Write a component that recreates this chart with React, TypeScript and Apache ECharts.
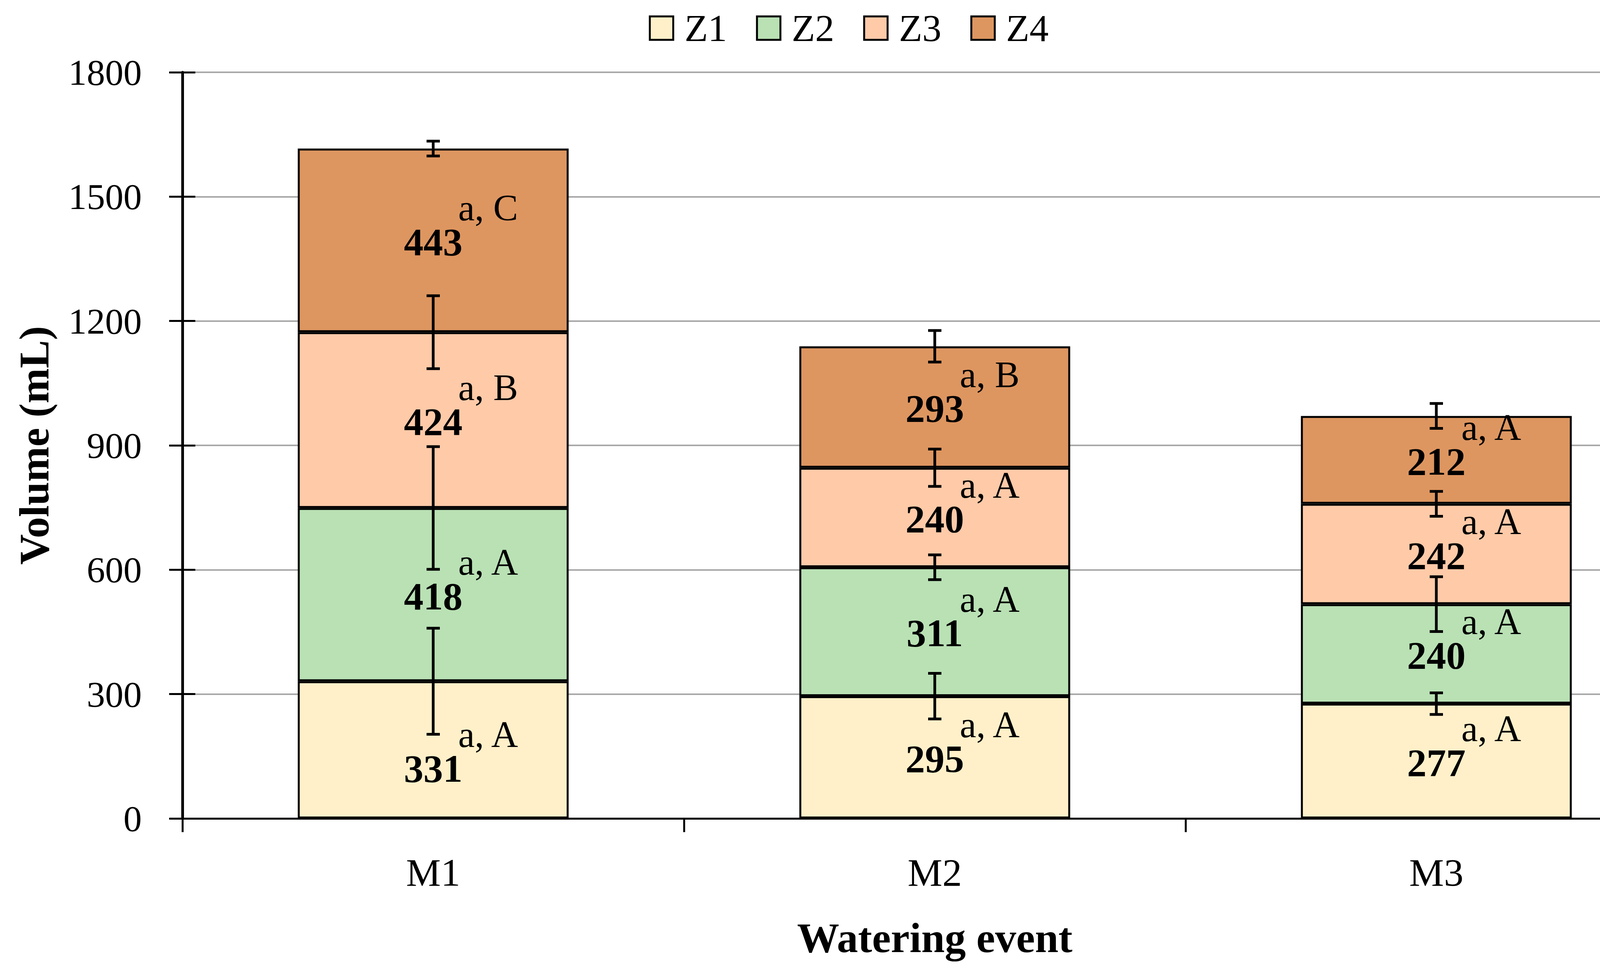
import React, { useEffect, useRef } from "react";
import * as echarts from "echarts";

const categories = ["M1", "M2", "M3"];
const seriesNames = ["Z1", "Z2", "Z3", "Z4"];
const z1 = [331, 295, 277];
const z2 = [418, 311, 240];
const z3 = [424, 240, 242];
const z4 = [443, 293, 212];
const z1Err = [128, 55, 26];
const z2Err = [148, 30, 66];
const z3Err = [88, 45, 30];
const z4Err = [18, 38, 30];
const z1Letters = ["a, A", "a, A", "a, A"];
const z2Letters = ["a, A", "a, A", "a, A"];
const z3Letters = ["a, B", "a, A", "a, A"];
const z4Letters = ["a, C", "a, B", "a, A"];
const yTicks = [0, 300, 600, 900, 1200, 1500, 1800];
const colors = ["#FFF0C9", "#B9E1B4", "#FFCAA8", "#DE9660"];

const FONT = "'Liberation Serif', 'Times New Roman', serif";

export default function App() {
  const ref = useRef<HTMLDivElement>(null);

  useEffect(() => {
    if (!ref.current) return;
    const chart = echarts.init(ref.current, undefined, { renderer: "svg" });

    const values = [z1, z2, z3, z4];
    const errs = [z1Err, z2Err, z3Err, z4Err];
    const letters = [z1Letters, z2Letters, z3Letters, z4Letters];

    // label of the first segment of M1 sits lower in the original (moved by hand)
    const labelShift = (s: number, i: number) => (s === 0 && i === 0 ? 44 : 0);

    const errData: number[][] = [];
    const errLetters: string[] = [];
    const errShift: number[] = [];
    categories.forEach((_, i) => {
      let cum = 0;
      values.forEach((arr, s) => {
        const bottom = cum;
        cum += arr[i];
        errData.push([i, cum, errs[s][i], (bottom + cum) / 2]);
        errLetters.push(letters[s][i]);
        errShift.push(labelShift(s, i));
      });
    });

    const yMin = yTicks[0];
    const yMax = yTicks[yTicks.length - 1];
    const yInterval = yTicks[1] - yTicks[0];

    const gridBox = { left: 467, right: 23, top: 185, bottom: 393 };

    const barSeries = seriesNames.map((name, s) => ({
      name,
      type: "bar",
      stack: "total",
      barWidth: "54%",
      xAxisIndex: 0,
      yAxisIndex: 0,
      data: values[s].map((v, i) =>
        labelShift(s, i) ? { value: v, label: { offset: [0, 4 + labelShift(s, i)] } } : v
      ),
      itemStyle: { color: colors[s], borderColor: "#000", borderWidth: 5 },
      label: {
        show: true,
        position: "inside",
        fontFamily: FONT,
        fontWeight: "bold",
        fontSize: 100,
        color: "#000",
        offset: [0, 4],
      },
      emphasis: { disabled: true },
    }));

    const option: any = {
      animation: false,
      backgroundColor: "#fff",
      textStyle: { fontFamily: FONT },
      legend: {
        data: seriesNames,
        left: 1656,
        top: 18,
        icon: "rect",
        itemWidth: 60,
        itemHeight: 60,
        itemGap: 74,
        itemStyle: { borderColor: "#000", borderWidth: 5 },
        textStyle: {
          fontFamily: FONT,
          fontSize: 98,
          color: "#000",
          padding: [0, 0, 0, 24],
        },
      },
      grid: [
        { ...gridBox, containLabel: false },
        { ...gridBox, containLabel: false },
      ],
      xAxis: [
        {
          type: "category",
          gridIndex: 0,
          data: categories,
          name: "Watering event",
          nameLocation: "middle",
          nameGap: 251,
          nameTextStyle: {
            fontFamily: FONT,
            fontWeight: "bold",
            fontSize: 108,
            color: "#000",
          },
          axisLine: { show: true, lineStyle: { color: "#000", width: 5 } },
          axisTick: {
            show: true,
            inside: false,
            length: 35,
            lineStyle: { color: "#000", width: 5 },
          },
          axisLabel: {
            fontFamily: FONT,
            fontSize: 100,
            color: "#000",
            margin: 88,
          },
          splitLine: { show: false },
        },
        {
          type: "category",
          gridIndex: 1,
          data: categories,
          show: false,
        },
      ],
      yAxis: [
        {
          type: "value",
          gridIndex: 0,
          min: yMin,
          max: yMax,
          interval: yInterval,
          name: "Volume (mL)",
          nameLocation: "middle",
          nameGap: 326,
          nameTextStyle: {
            fontFamily: FONT,
            fontWeight: "bold",
            fontSize: 108,
            color: "#000",
          },
          axisLine: { show: true, lineStyle: { color: "#000", width: 7 } },
          axisTick: {
            show: true,
            inside: false,
            length: 34,
            lineStyle: { color: "#000", width: 5 },
          },
          axisLabel: {
            fontFamily: FONT,
            fontSize: 94,
            color: "#000",
            margin: 104,
            formatter: (v: number) => String(v),
          },
          splitLine: { show: true, lineStyle: { color: "#A8A8A8", width: 4 } },
        },
        {
          type: "value",
          gridIndex: 1,
          min: yMin,
          max: yMax,
          interval: yInterval,
          position: "left",
          axisLine: { show: false },
          axisTick: {
            show: true,
            inside: true,
            length: 33,
            lineStyle: { color: "#000", width: 5 },
          },
          axisLabel: { show: false },
          splitLine: { show: false },
        },
      ],
      series: [
        ...barSeries,
        {
          name: "errors",
          type: "custom",
          xAxisIndex: 0,
          yAxisIndex: 0,
          z: 5,
          data: errData,
          renderItem: (params: any, api: any) => {
            const x = api.value(0);
            const top = api.value(1);
            const err = api.value(2);
            const mid = api.value(3);
            const pHi = api.coord([x, top + err]);
            const pLo = api.coord([x, top - err]);
            const pMid = api.coord([x, mid]);
            const cx = pHi[0];
            const cap = 17;
            const lineStyle = { stroke: "#000", lineWidth: 7 };
            return {
              type: "group",
              children: [
                {
                  type: "line",
                  shape: { x1: cx, y1: pHi[1], x2: cx, y2: pLo[1] },
                  style: lineStyle,
                },
                {
                  type: "line",
                  shape: { x1: cx - cap, y1: pHi[1], x2: cx + cap, y2: pHi[1] },
                  style: lineStyle,
                },
                {
                  type: "line",
                  shape: { x1: cx - cap, y1: pLo[1], x2: cx + cap, y2: pLo[1] },
                  style: lineStyle,
                },
                {
                  type: "text",
                  x: cx + 64,
                  y: pMid[1] - 83 + errShift[params.dataIndex],
                  style: {
                    text: errLetters[params.dataIndex],
                    fontFamily: FONT,
                    fontSize: 95,
                    fill: "#000",
                    align: "left",
                    verticalAlign: "middle",
                  },
                },
              ],
            };
          },
        },
      ],
    };

    chart.setOption(option);
    return () => chart.dispose();
  }, []);

  return (
    <div
      ref={ref}
      style={{ position: "absolute", left: 0, top: 0, width: 4342, height: 2488 }}
    />
  );
}
